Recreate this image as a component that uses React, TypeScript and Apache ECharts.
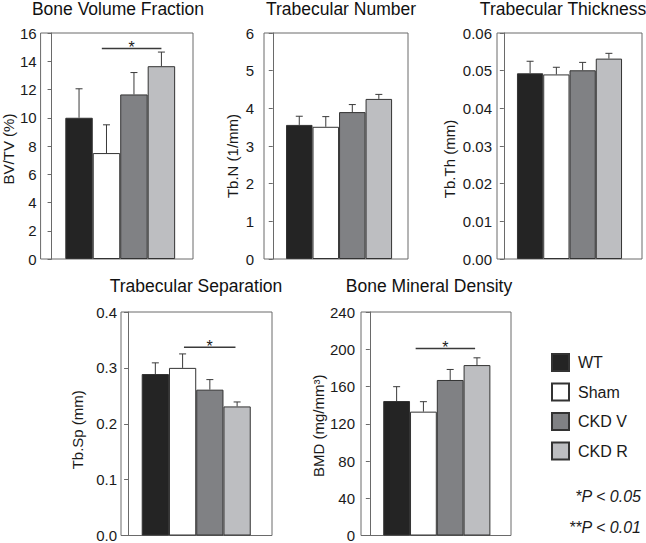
import React, { useEffect, useRef } from "react";
import * as echarts from "echarts";

// ---------- data ----------
const groups = ["WT", "Sham", "CKD V", "CKD R"];
const groupColors = ["#242424", "#ffffff", "#808184", "#bdbec1"];

const bvtvMean = [10.0, 7.5, 11.65, 13.65];
const bvtvErr = [2.05, 2.0, 1.55, 1.0];

const tbnMean = [3.56, 3.51, 3.9, 4.25];
const tbnErr = [0.23, 0.27, 0.2, 0.12];

const tbthMean = [0.0493, 0.049, 0.0501, 0.0532];
const tbthErr = [0.0032, 0.0019, 0.0021, 0.0014];

const tbspMean = [0.289, 0.3, 0.261, 0.231];
const tbspErr = [0.02, 0.025, 0.018, 0.008];

const bmdMean = [144.4, 133.0, 167.0, 183.0];
const bmdErr = [15.4, 10.7, 11.3, 7.8];

// significance brackets: [fromX, toX, y]
const sigBVTV = [1.83, 4.0, 14.9];
const sigTbSp = [2.05, 3.94, 0.337];
const sigBMD = [1.71, 3.93, 200.7];

const titles = [
  "Bone Volume Fraction",
  "Trabecular Number",
  "Trabecular Thickness",
  "Trabecular Separation",
  "Bone Mineral Density",
];
const yNames = ["BV/TV (%)", "Tb.N (1/mm)", "Tb.Th (mm)", "Tb.Sp (mm)", "BMD (mg/mm³)"];
const pTexts = ["*P < 0.05", "**P < 0.01"];

const FONT = "'Liberation Sans', Arial, Helvetica, sans-serif";

export default function App() {
  const ref = useRef<HTMLDivElement>(null);

  useEffect(() => {
    if (!ref.current) return;
    const chart = echarts.init(ref.current, undefined, { renderer: "svg" });

    const panels = [
      { mean: bvtvMean, err: bvtvErr, sig: sigBVTV, grid: { left: 39, top: 33, width: 154, height: 226 }, xr: [-0.4, 5.15], ymax: 16, interval: 2, dec: 0, nameGap: 23, namePad: 6, margin: 4, title: [118, 9] },
      { mean: tbnMean, err: tbnErr, sig: null, grid: { left: 264, top: 33, width: 144, height: 226 }, xr: [-0.33, 5.1], ymax: 6, interval: 1, dec: 0, nameGap: 24, namePad: 20, margin: 10, title: [341, 9] },
      { mean: tbthMean, err: tbthErr, sig: null, grid: { left: 497, top: 33, width: 145, height: 226 }, xr: [-0.26, 5.26], ymax: 0.06, interval: 0.01, dec: 2, nameGap: 40, namePad: 26, margin: 5, title: [563, 9] },
      { mean: tbspMean, err: tbspErr, sig: sigTbSp, grid: { left: 121, top: 312, width: 151, height: 225 }, xr: [-0.26, 5.28], ymax: 0.4, interval: 0.1, dec: 1, nameGap: 36, namePad: 12, margin: 4, title: [196, 286] },
      { mean: bmdMean, err: bmdErr, sig: sigBMD, grid: { left: 361, top: 312, width: 150, height: 225 }, xr: [-0.33, 5.27], ymax: 240, interval: 40, dec: 0, nameGap: 33, namePad: 4, margin: 6, title: [429, 286] },
    ];

    const grids: any[] = [];
    const xAxes: any[] = [];
    const yAxes: any[] = [];
    const series: any[] = [];
    const graphics: any[] = [];

    panels.forEach((p, i) => {
      grids.push({ ...p.grid, show: true, borderColor: "#6a6a6a", borderWidth: 1, backgroundColor: "transparent" });
      xAxes.push({ gridIndex: i, type: "value", min: p.xr[0], max: p.xr[1], show: false });
      yAxes.push({
        gridIndex: i,
        type: "value",
        min: 0,
        max: p.ymax,
        interval: p.interval,
        name: yNames[i],
        nameLocation: "middle",
        nameRotate: 90,
        nameGap: p.nameGap,
        nameTextStyle: { fontSize: 15, color: "#1a1a1a", fontFamily: FONT, padding: [0, p.namePad, 0, 0] },
        axisLine: { show: true, lineStyle: { color: "#6a6a6a", width: 1 } },
        axisTick: { show: true, length: 4, inside: false, lineStyle: { color: "#6a6a6a" } },
        axisLabel: {
          fontSize: 15,
          color: "#1a1a1a",
          fontFamily: FONT,
          margin: p.margin,
          formatter: (v: number) => v.toFixed(p.dec),
        },
        splitLine: { show: false },
      });
      groups.forEach((g, k) => {
        series.push({
          type: "bar",
          name: g,
          xAxisIndex: i,
          yAxisIndex: i,
          data: [[k + 1, p.mean[k]]],
          barWidth: "100%",
          barGap: "-100%",
          itemStyle: { color: groupColors[k], borderColor: "#333333", borderWidth: 1 },
          emphasis: { disabled: true },
          z: 2,
        });
      });
      series.push({
        type: "custom",
        xAxisIndex: i,
        yAxisIndex: i,
        z: 3,
        silent: true,
        data: p.mean.map((m, k) => [k + 1, m, p.err[k]]),
        encode: { x: 0, y: 1 },
        renderItem: (params: any, api: any) => {
          const x = api.value(0);
          const m = api.value(1);
          const e = api.value(2);
          const p0 = api.coord([x, m]);
          const p1 = api.coord([x, m + e]);
          const st = { stroke: "#3a3a3a", lineWidth: 1 };
          return {
            type: "group",
            children: [
              { type: "line", shape: { x1: p0[0], y1: p0[1], x2: p1[0], y2: p1[1] }, style: st },
              { type: "line", shape: { x1: p1[0] - 3.5, y1: p1[1], x2: p1[0] + 3.5, y2: p1[1] }, style: st },
            ],
          };
        },
      });
      if (p.sig) {
        series.push({
          type: "custom",
          xAxisIndex: i,
          yAxisIndex: i,
          z: 3,
          silent: true,
          data: [p.sig],
          dimensions: ["x1", "x2", "y"],
          encode: { x: [0, 1], y: 2 },
          renderItem: (params: any, api: any) => {
            const a = api.coord([api.value(0), api.value(2)]);
            const b = api.coord([api.value(1), api.value(2)]);
            return {
              type: "group",
              children: [
                { type: "line", shape: { x1: a[0], y1: a[1], x2: b[0], y2: b[1] }, style: { stroke: "#3a3a3a", lineWidth: 1.5 } },
                {
                  type: "text",
                  x: (a[0] + b[0]) / 2,
                  y: a[1] + 7,
                  style: { text: "*", textAlign: "center", textVerticalAlign: "bottom", fontSize: 16, fontFamily: FONT, fill: "#1a1a1a" },
                },
              ],
            };
          },
        });
      }
      graphics.push({
        type: "text",
        x: p.title[0],
        y: p.title[1],
        style: { text: titles[i], textAlign: "center", textVerticalAlign: "middle", fontSize: 17.5, fontFamily: FONT, fill: "#111111" },
      });
    });

    graphics.push({
      type: "text",
      x: 641,
      y: 496,
      style: { text: pTexts[0], textAlign: "right", textVerticalAlign: "middle", fontSize: 16, fontStyle: "italic", fontFamily: FONT, fill: "#1a1a1a" },
    });
    graphics.push({
      type: "text",
      x: 641,
      y: 527,
      style: { text: pTexts[1], textAlign: "right", textVerticalAlign: "middle", fontSize: 16, fontStyle: "italic", fontFamily: FONT, fill: "#1a1a1a" },
    });

    chart.setOption({
      animation: false,
      backgroundColor: "#ffffff",
      grid: grids,
      xAxis: xAxes,
      yAxis: yAxes,
      series,
      graphic: graphics,
      legend: {
        data: groups,
        orient: "vertical",
        left: 551,
        top: 353,
        padding: 0,
        itemWidth: 17,
        itemHeight: 17,
        itemGap: 10.5,
        icon: "rect",
        selectedMode: false,
        textStyle: { fontSize: 16, color: "#1a1a1a", fontFamily: FONT, padding: [0, 0, 0, 4] },
      },
    });

    return () => chart.dispose();
  }, []);

  return (
    <div
      ref={ref}
      style={{ position: "absolute", left: 0, top: 0, width: 646, height: 543 }}
    />
  );
}
